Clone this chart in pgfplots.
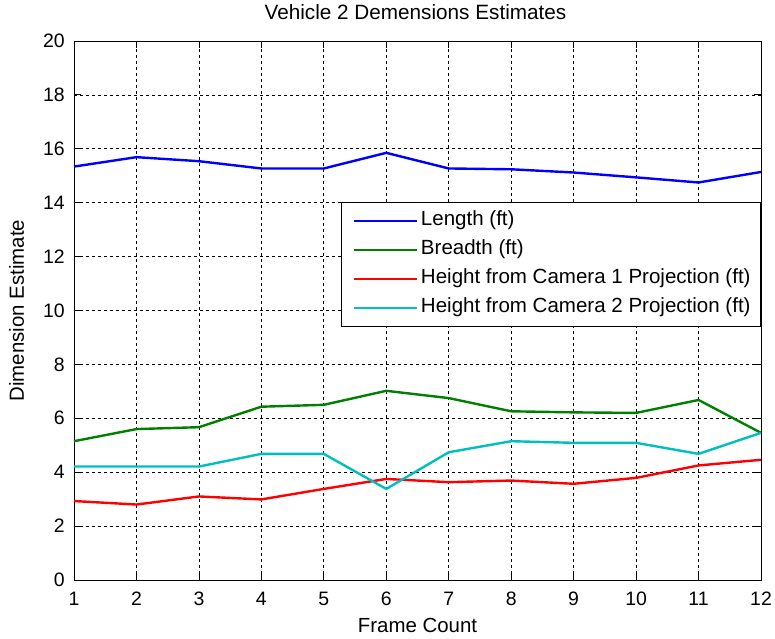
\documentclass[border=0pt]{standalone}
\usepackage{pgfplots}
\pgfplotsset{compat=1.18}
\usepackage{fontspec}
\setmainfont{Liberation Sans}
\definecolor{mblue}{RGB}{0,0,255}
\definecolor{mgreen}{RGB}{0,128,0}
\definecolor{mred}{RGB}{255,0,0}
\definecolor{mcyan}{RGB}{0,191,191}
\begin{document}
\begin{tikzpicture}
\useasboundingbox (-74bp,-59bp) rectangle (701bp,580bp);
\begin{axis}[
  scale only axis,
  width=687bp, height=539bp,
  xmin=1, xmax=12, ymin=0, ymax=20,
  xtick={1,...,12}, ytick={0,2,...,20},
  font=\fontsize{19.5}{23}\selectfont,
  /pgf/number format/assume math mode=true,
  tick align=inside, tick pos=both, major tick length=7bp,
  axis line style={black, line width=0.8bp},
  every tick/.style={black, line width=0.8bp},
  grid=major,
  grid style={black, dash pattern=on 3bp off 3bp, line width=0.7bp},
  xticklabel style={anchor=base, yshift=-25bp, inner sep=0pt},
  yticklabel style={anchor=east, inner sep=0pt, xshift=-9bp},
  title={Vehicle 2 Demensions Estimates},
  title style={at={(axis description cs:0.5,1)}, anchor=base, yshift=16bp, xshift=-2bp, inner sep=0pt, font=\fontsize{20.8}{24}\selectfont},
  xlabel={Frame Count},
  xlabel style={at={(axis description cs:0.5,0)}, anchor=base, yshift=-52bp, inner sep=0pt, font=\fontsize{20.5}{24}\selectfont},
  ylabel={Dimension Estimate},
  ylabel style={at={([xshift=-50bp]axis description cs:0,0.5)}, anchor=base, inner sep=0pt, font=\fontsize{20.5}{24}\selectfont},
  legend style={at={(axis description cs:1.0,0.7013)}, anchor=north east,
    draw=black, line width=0.8bp, inner xsep=7bp, inner ysep=4bp,
    nodes={text height=14bp, text depth=4bp, inner ysep=5.5bp, inner xsep=3bp},
    font=\fontsize{20.6}{24}\selectfont},
  legend cell align=left,
  legend image code/.code={\path (0bp,0bp); \draw[#1, line width=2.4bp] (4bp,0bp) -- (67bp,0bp);},
  every axis plot/.append style={line width=2.4bp},
]
\addplot[mblue] coordinates {(1,15.34) (2,15.69) (3,15.54) (4,15.27) (5,15.27) (6,15.85) (7,15.27) (8,15.24) (9,15.12) (10,14.94) (11,14.75) (12,15.14)};
\addlegendentry{Length (ft)}
\addplot[mgreen] coordinates {(1,5.15) (2,5.6) (3,5.67) (4,6.43) (5,6.5) (6,7.02) (7,6.75) (8,6.26) (9,6.22) (10,6.2) (11,6.68) (12,5.46)};
\addlegendentry{Breadth (ft)}
\addplot[mred] coordinates {(1,2.93) (2,2.80) (3,3.10) (4,2.99) (5,3.38) (6,3.75) (7,3.63) (8,3.69) (9,3.57) (10,3.79) (11,4.25) (12,4.46)};
\addlegendentry{Height from Camera 1 Projection (ft)}
\addplot[mcyan] coordinates {(1,4.21) (2,4.21) (3,4.21) (4,4.68) (5,4.68) (6,3.38) (7,4.74) (8,5.15) (9,5.09) (10,5.09) (11,4.68) (12,5.46)};
\addlegendentry{Height from Camera 2 Projection (ft)}
\end{axis}
\end{tikzpicture}
\end{document}
